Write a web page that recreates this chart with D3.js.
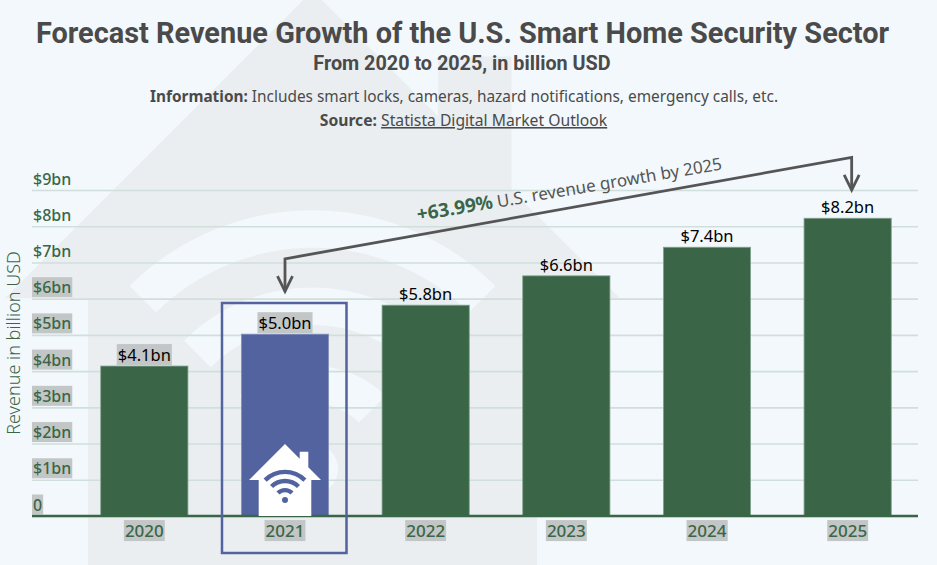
<!DOCTYPE html>
<html>
<head>
<meta charset="utf-8">
<script src="https://cdn.jsdelivr.net/npm/d3@7"></script>
<style>
  html, body { margin: 0; padding: 0; background: #f2f8fb; }
  svg { display: block; }
  text { font-family: "Noto Sans", sans-serif; }
</style>
</head>
<body>
<div id="chart"></div>
<script>
// data
const years = ["2020", "2021", "2022", "2023", "2024", "2025"];
const revenue = [4.14, 5.02, 5.82, 6.63, 7.42, 8.22];
const yTicks = [0, 1, 2, 3, 4, 5, 6, 7, 8, 9];
const highlightYear = "2021";
const markedTicks = [0, 1, 2, 3, 4, 5, 6];
const markedValues = ["2020", "2021"];

const green = "#3a6647";
const blue = "#5263a0";
const grey = "#4a4a4a";
const marker = "#c3c6c6";
const pageBg = "#f2f8fb";

const width = 937, height = 565;

const svg = d3.select("#chart").append("svg")
    .attr("width", width)
    .attr("height", height);

const xScale = d3.scaleBand().domain(years).range([74, 918]).paddingInner(0.38).paddingOuter(0.19);
const yScale = d3.scaleLinear().domain([0, 9]).range([516, 190]);

// house with wifi, drawn around the wifi dot
function drawHouse(parent, cx, cy, s, fill, cut) {
    const g = parent.append("g").attr("transform", `translate(${cx},${cy}) scale(${s})`);
    g.append("path")
        .attr("d", "M0,-56 L14.7,-41.3 L14.7,-48.3 L23.3,-48.3 L23.3,-32.7 L36,-20 L26.3,-20 L26.3,16 L-26.3,16 L-26.3,-20 L-36,-20 Z")
        .attr("fill", fill);
    [9.9, 19.05, 28.1].forEach(r => {
        const arc = d3.arc().innerRadius(r - 2.2).outerRadius(r + 2.2)
            .startAngle(-Math.PI / 4).endAngle(Math.PI / 4);
        g.append("path").attr("d", arc()).attr("fill", cut);
    });
    g.append("circle").attr("r", 3).attr("fill", cut);
}

// backdrop house
drawHouse(svg, 312.5, 469, 8.54, "#eaeef1", pageBg);

// put a grey marker box behind a text
function markText(sel) {
    sel.each(function () {
        const b = this.getBBox();
        d3.select(this.parentNode).insert("rect", () => this)
            .attr("x", b.x - 1).attr("y", b.y + 1)
            .attr("width", b.width + 2).attr("height", b.height - 2)
            .attr("fill", marker);
    });
}

// y axis, grid lines come from the ticks
const yAxis = svg.append("g")
    .attr("transform", "translate(918,0)")
    .call(d3.axisLeft(yScale)
        .tickValues(yTicks)
        .tickSize(886)
        .tickFormat(d => d === 0 ? "0" : "$" + d + "bn"));
yAxis.select(".domain").remove();
yAxis.selectAll(".tick line")
    .attr("stroke", "#d0dfdb")
    .attr("stroke-width", 1.6);
yAxis.selectAll(".tick text")
    .attr("x", -885)
    .attr("y", -6)
    .attr("dy", 0)
    .attr("text-anchor", "start")
    .attr("fill", green)
    .style("font-size", "16px")
    .style("font-weight", 500);
markText(yAxis.selectAll(".tick text").filter(d => markedTicks.includes(d)));

svg.append("text")
    .attr("transform", "translate(20,343) rotate(-90)")
    .attr("text-anchor", "middle")
    .attr("fill", green)
    .style("font-size", "18px")
    .style("font-weight", 300)
    .text("Revenue in billion USD");

// bars
svg.selectAll("rect.bar")
    .data(years)
    .enter()
    .append("rect")
    .attr("class", "bar")
    .attr("x", d => xScale(d))
    .attr("width", xScale.bandwidth())
    .attr("y", (d, i) => yScale(revenue[i]))
    .attr("height", (d, i) => yScale(0) - yScale(revenue[i]))
    .attr("fill", d => d === highlightYear ? blue : green)
    .attr("stroke", d => d === highlightYear ? "#8592bd" : "#83a391")
    .attr("stroke-width", 0.8);

// value labels
const labels = svg.append("g");
labels.selectAll("text")
    .data(years)
    .enter()
    .append("text")
    .attr("x", d => xScale(d) + xScale.bandwidth() / 2)
    .attr("y", (d, i) => yScale(revenue[i]) - 5)
    .attr("text-anchor", "middle")
    .attr("fill", "#000")
    .style("font-size", "16.5px")
    .text((d, i) => "$" + revenue[i].toFixed(1) + "bn");
markText(labels.selectAll("text").filter(d => markedValues.includes(d)));

// x axis
const xAxis = svg.append("g")
    .attr("transform", "translate(0,516)")
    .call(d3.axisBottom(xScale).tickSize(0).tickPadding(9));
xAxis.select(".domain").remove();
svg.append("line")
    .attr("x1", 32).attr("x2", 918)
    .attr("y1", 516).attr("y2", 516)
    .attr("stroke", green)
    .attr("stroke-width", 2.5);
xAxis.selectAll(".tick text")
    .attr("fill", green)
    .style("font-size", "17px")
    .style("font-weight", 500);
markText(xAxis.selectAll(".tick text"));

// house on the highlighted bar
const hx = xScale(highlightYear) + xScale.bandwidth() / 2;
drawHouse(svg, hx, 500, 1, "#ffffff", blue);

// box around the highlighted year
svg.append("rect")
    .attr("x", hx - 63).attr("y", 303)
    .attr("width", 124.5).attr("height", 250)
    .attr("fill", "none")
    .attr("stroke", blue)
    .attr("stroke-width", 2.5);

// growth annotation
const ax1 = hx, ax2 = xScale("2025") + xScale.bandwidth() / 2 + 4;
const line = d3.line().x(d => d[0]).y(d => yScale(d[1]));
svg.append("path")
    .attr("d", line([[ax1, 6.2], [ax1, 7.1], [ax2, 9.9], [ax2, 9.0]]))
    .attr("fill", "none").attr("stroke", "#555").attr("stroke-width", 2.8);
[[ax1, 6.2], [ax2, 9.0]].forEach(p => {
    svg.append("path")
        .attr("d", line([[p[0] - 7.5, p[1] + 0.42], p, [p[0] + 7.5, p[1] + 0.42]]))
        .attr("fill", "none").attr("stroke", "#555").attr("stroke-width", 2.8);
});

const note = svg.append("text")
    .attr("transform", "translate(418,221) rotate(-9.6)")
    .attr("fill", "#555")
    .style("font-size", "17px");
note.append("tspan").attr("fill", green).style("font-weight", 700).style("font-size", "19px").text("+63.99%");
note.append("tspan").text(" U.S. revenue growth by 2025");

// headings
svg.append("text")
    .attr("x", 462.5).attr("y", 43)
    .attr("text-anchor", "middle")
    .attr("fill", grey)
    .style("font-family", "Roboto")
    .style("font-size", "28.9px")
    .style("font-weight", 700)
    .text("Forecast Revenue Growth of the U.S. Smart Home Security Sector");

svg.append("text")
    .attr("x", 462).attr("y", 70)
    .attr("text-anchor", "middle")
    .attr("fill", grey)
    .style("font-family", "Roboto")
    .style("font-size", "19.8px")
    .style("font-weight", 700)
    .text("From 2020 to 2025, in billion USD");

const info = svg.append("text")
    .attr("x", 464).attr("y", 102)
    .attr("text-anchor", "middle")
    .attr("fill", grey)
    .style("font-size", "15.4px");
info.append("tspan").style("font-weight", 700).text("Information: ");
info.append("tspan").text("Includes smart locks, cameras, hazard notifications, emergency calls, etc.");

const source = svg.append("text")
    .attr("x", 463.5).attr("y", 126)
    .attr("text-anchor", "middle")
    .attr("fill", grey)
    .style("font-size", "15.7px");
source.append("tspan").style("font-weight", 700).text("Source: ");
source.append("tspan").style("text-decoration", "underline").text("Statista Digital Market Outlook");
</script>
</body>
</html>
